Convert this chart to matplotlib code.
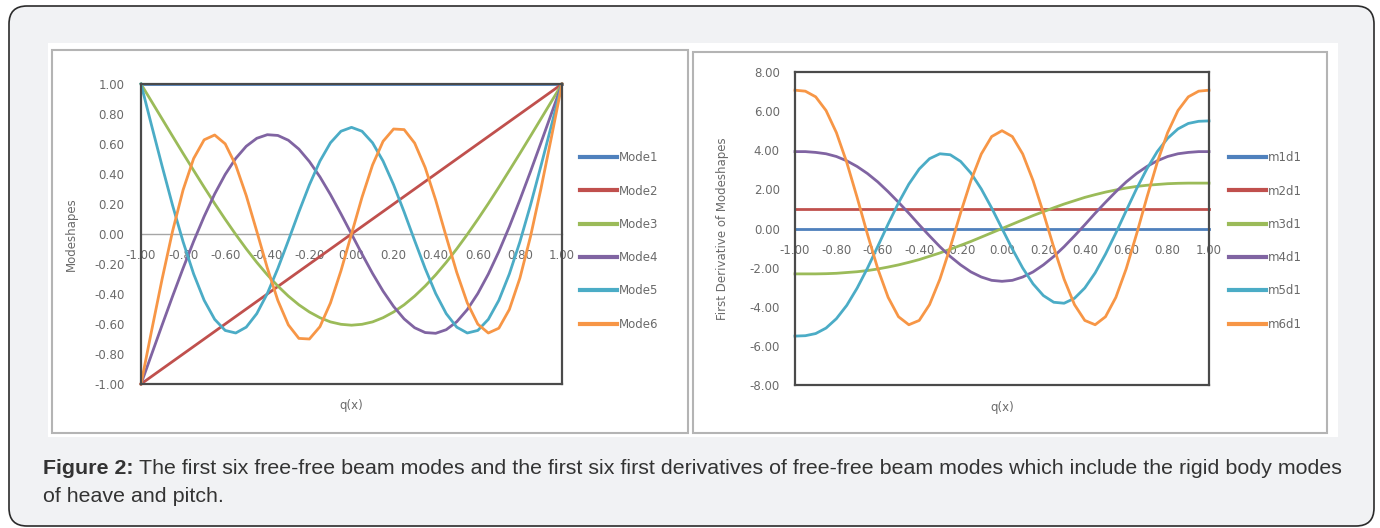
import matplotlib.pyplot as plt
from matplotlib.patches import FancyBboxPatch, Rectangle
from matplotlib.ticker import FormatStrFormatter, MultipleLocator

plt.rcParams['font.family'] = ['DejaVu Sans']
plt.rcParams['axes.unicode_minus'] = False

# position along the beam
q = [-1.00, -0.95, -0.90, -0.85, -0.80, -0.75, -0.70, -0.65, -0.60, -0.55,
     -0.50, -0.45, -0.40, -0.35, -0.30, -0.25, -0.20, -0.15, -0.10, -0.05,
     0.00, 0.05, 0.10, 0.15, 0.20, 0.25, 0.30, 0.35, 0.40, 0.45,
     0.50, 0.55, 0.60, 0.65, 0.70, 0.75, 0.80, 0.85, 0.90, 0.95, 1.00]

# mode shapes (left chart)
mode1 = [1.00, 1.00, 1.00, 1.00, 1.00, 1.00, 1.00, 1.00, 1.00, 1.00,
         1.00, 1.00, 1.00, 1.00, 1.00, 1.00, 1.00, 1.00, 1.00, 1.00,
         1.00, 1.00, 1.00, 1.00, 1.00, 1.00, 1.00, 1.00, 1.00, 1.00,
         1.00, 1.00, 1.00, 1.00, 1.00, 1.00, 1.00, 1.00, 1.00, 1.00, 1.00]
mode2 = [-1.00, -0.95, -0.90, -0.85, -0.80, -0.75, -0.70, -0.65, -0.60, -0.55,
         -0.50, -0.45, -0.40, -0.35, -0.30, -0.25, -0.20, -0.15, -0.10, -0.05,
         0.00, 0.05, 0.10, 0.15, 0.20, 0.25, 0.30, 0.35, 0.40, 0.45,
         0.50, 0.55, 0.60, 0.65, 0.70, 0.75, 0.80, 0.85, 0.90, 0.95, 1.00]
mode3 = [1.000, 0.884, 0.768, 0.652, 0.537, 0.424, 0.312, 0.203, 0.098, -0.003,
         -0.099, -0.189, -0.272, -0.347, -0.414, -0.472, -0.520, -0.558, -0.586, -0.602,
         -0.608, -0.602, -0.586, -0.558, -0.520, -0.472, -0.414, -0.347, -0.272, -0.189,
         -0.099, -0.003, 0.098, 0.203, 0.312, 0.424, 0.537, 0.652, 0.768, 0.884, 1.000]
mode4 = [-1.000, -0.804, -0.608, -0.415, -0.228, -0.049, 0.117, 0.267, 0.397, 0.504,
         0.585, 0.638, 0.662, 0.657, 0.625, 0.566, 0.483, 0.381, 0.263, 0.134,
         0.000, -0.134, -0.263, -0.381, -0.483, -0.566, -0.625, -0.657, -0.662, -0.638,
         -0.585, -0.504, -0.397, -0.267, -0.117, 0.049, 0.228, 0.415, 0.608, 0.804, 1.000]
mode5 = [1.000, 0.725, 0.454, 0.191, -0.052, -0.266, -0.442, -0.569, -0.643, -0.660,
         -0.621, -0.531, -0.397, -0.230, -0.044, 0.147, 0.328, 0.486, 0.608, 0.685,
         0.711, 0.685, 0.608, 0.486, 0.328, 0.147, -0.044, -0.230, -0.397, -0.531,
         -0.621, -0.660, -0.643, -0.569, -0.442, -0.266, -0.052, 0.191, 0.454, 0.725, 1.000]
mode6 = [-1.000, -0.647, -0.302, 0.019, 0.294, 0.503, 0.628, 0.660, 0.601, 0.459,
         0.256, 0.018, -0.226, -0.443, -0.606, -0.696, -0.700, -0.618, -0.460, -0.245,
         0.000, 0.245, 0.460, 0.618, 0.700, 0.696, 0.606, 0.443, 0.226, -0.018,
         -0.256, -0.459, -0.601, -0.660, -0.628, -0.503, -0.294, -0.019, 0.302, 0.647, 1.000]

# first derivatives (right chart)
m1d1 = [0.00, 0.00, 0.00, 0.00, 0.00, 0.00, 0.00, 0.00, 0.00, 0.00,
        0.00, 0.00, 0.00, 0.00, 0.00, 0.00, 0.00, 0.00, 0.00, 0.00,
        0.00, 0.00, 0.00, 0.00, 0.00, 0.00, 0.00, 0.00, 0.00, 0.00,
        0.00, 0.00, 0.00, 0.00, 0.00, 0.00, 0.00, 0.00, 0.00, 0.00, 0.00]
m2d1 = [1.00, 1.00, 1.00, 1.00, 1.00, 1.00, 1.00, 1.00, 1.00, 1.00,
        1.00, 1.00, 1.00, 1.00, 1.00, 1.00, 1.00, 1.00, 1.00, 1.00,
        1.00, 1.00, 1.00, 1.00, 1.00, 1.00, 1.00, 1.00, 1.00, 1.00,
        1.00, 1.00, 1.00, 1.00, 1.00, 1.00, 1.00, 1.00, 1.00, 1.00, 1.00]
m3d1 = [-2.32, -2.32, -2.32, -2.31, -2.29, -2.25, -2.21, -2.15, -2.07, -1.97,
        -1.86, -1.73, -1.59, -1.42, -1.25, -1.06, -0.86, -0.66, -0.44, -0.22,
        0.00, 0.22, 0.44, 0.66, 0.86, 1.06, 1.25, 1.42, 1.59, 1.73,
        1.86, 1.97, 2.07, 2.15, 2.21, 2.25, 2.29, 2.31, 2.32, 2.32, 2.32]
m4d1 = [3.93, 3.93, 3.89, 3.82, 3.68, 3.46, 3.17, 2.81, 2.38, 1.88,
        1.34, 0.78, 0.19, -0.38, -0.93, -1.43, -1.86, -2.22, -2.48, -2.65,
        -2.70, -2.65, -2.48, -2.22, -1.86, -1.43, -0.93, -0.38, 0.19, 0.78,
        1.34, 1.88, 2.38, 2.81, 3.17, 3.46, 3.68, 3.82, 3.89, 3.93, 3.93]
m5d1 = [-5.50, -5.48, -5.37, -5.09, -4.61, -3.93, -3.05, -2.03, -0.91, 0.23,
        1.31, 2.27, 3.04, 3.57, 3.82, 3.77, 3.43, 2.83, 2.02, 1.05,
        0.00, -1.05, -2.02, -2.83, -3.43, -3.77, -3.82, -3.57, -3.04, -2.27,
        -1.31, -0.23, 0.91, 2.03, 3.05, 3.93, 4.61, 5.09, 5.37, 5.48, 5.50]
m6d1 = [7.07, 7.02, 6.73, 6.03, 4.90, 3.38, 1.59, -0.29, -2.06, -3.52,
        -4.51, -4.92, -4.70, -3.89, -2.59, -0.96, 0.80, 2.45, 3.81, 4.70,
        5.00, 4.70, 3.81, 2.45, 0.80, -0.96, -2.59, -3.89, -4.70, -4.92,
        -4.51, -3.52, -2.06, -0.29, 1.59, 3.38, 4.90, 6.03, 6.73, 7.02, 7.07]

mode_names = ["Mode1", "Mode2", "Mode3", "Mode4", "Mode5", "Mode6"]
deriv_names = ["m1d1", "m2d1", "m3d1", "m4d1", "m5d1", "m6d1"]
x_ticks = [-1.00, -0.80, -0.60, -0.40, -0.20, 0.00, 0.20, 0.40, 0.60, 0.80, 1.00]

colors = ["#4F81BD", "#C0504D", "#9BBB59", "#8064A2", "#4BACC6", "#F79646"]
txt_col = "#6a6a6a"
frame_col = "#4a4a4a"
fs = 8.5

fig = plt.figure(figsize=(13.8, 5.28), dpi=100)

# page background, drawn in pixel units
bg = fig.add_axes([0, 0, 1, 1])
bg.set_xlim(0, 1380)
bg.set_ylim(528, 0)
bg.axis("off")
bg.add_patch(FancyBboxPatch((9, 6), 1365, 520, boxstyle="round,pad=0,rounding_size=18",
                            fc="#f1f2f4", ec="#2b2b2b", lw=1.2))
bg.add_patch(Rectangle((48, 43), 1290, 394, fc="white", ec="none"))
bg.add_patch(Rectangle((52, 50), 636, 383, fc="white", ec="#b4b4b4", lw=1.5))
bg.add_patch(Rectangle((693, 52), 634, 381, fc="white", ec="#b4b4b4", lw=1.5))

cap_fs = 15.4
cap = bg.text(43, 468, "Figure 2:", fontsize=cap_fs, fontweight="bold", color="#333333",
              family="Liberation Sans", va="center", ha="left")
bg.annotate("The first six free-free beam modes and the first six first derivatives of "
            "free-free beam modes which include the rigid body modes",
            xy=(1, 0.5), xycoords=cap, xytext=(4, 0), textcoords="offset points",
            fontsize=cap_fs, color="#333333", family="Liberation Sans", va="center", ha="left")
bg.text(43, 497, "of heave and pitch.", fontsize=cap_fs, color="#333333",
        family="Liberation Sans", va="center", ha="left")


def make_chart(rect, series, names, ylim, ystep, ylabel, ylabel_x, leg_x, ypad):
    ax = fig.add_axes(rect)
    for ys, name, c in zip(series, names, colors):
        ax.plot(q, ys, color=c, lw=2.0, label=name, clip_on=False)
    ax.set_xlim(-1, 1)
    ax.set_ylim(*ylim)
    ax.yaxis.set_major_locator(MultipleLocator(ystep))
    ax.yaxis.set_major_formatter(FormatStrFormatter("%.2f"))
    ax.tick_params(axis="y", length=0, pad=ypad, labelsize=fs, labelcolor=txt_col)
    ax.tick_params(axis="x", bottom=False, labelbottom=False)
    for s in ax.spines.values():
        s.set_color(frame_col)
        s.set_linewidth(1.6)
    ax.set_ylabel(ylabel, fontsize=fs, color=txt_col)
    ax.yaxis.set_label_coords(ylabel_x, 0.5)
    ax.set_xlabel("q(x)", fontsize=fs, color=txt_col)
    ax.xaxis.set_label_coords(0.5, -0.05)

    # category axis crossing at zero
    sec = ax.secondary_xaxis(0.5)
    sec.set_alignment("bottom")
    sec.set_xticks(x_ticks)
    sec.xaxis.set_major_formatter(FormatStrFormatter("%.2f"))
    sec.tick_params(axis="x", length=0, pad=11, labelsize=fs, labelcolor=txt_col)
    for s in sec.spines.values():
        s.set_color("#a6a6a6")
        s.set_linewidth(1.0)

    leg = ax.legend(loc="center left", bbox_to_anchor=(leg_x / 1380, 1 - 241 / 528),
                    bbox_transform=fig.transFigure, frameon=False, fontsize=fs,
                    handlelength=3.1, handletextpad=0.2, labelspacing=1.72,
                    borderpad=0, borderaxespad=0)
    for t in leg.get_texts():
        t.set_color(txt_col)
    for h in leg.get_lines():
        h.set_linewidth(3.0)
    return ax


make_chart([141 / 1380, 144 / 528, 421 / 1380, 300 / 528],
           [mode1, mode2, mode3, mode4, mode5, mode6], mode_names,
           (-1, 1), 0.2, "Modeshapes", -0.15, 580, 12)
make_chart([795 / 1380, 143 / 528, 414 / 1380, 313 / 528],
           [m1d1, m2d1, m3d1, m4d1, m5d1, m6d1], deriv_names,
           (-8, 8), 2, "First Derivative of Modeshapes", -0.16, 1229, 11)

fig.savefig("out.png", dpi=100)
